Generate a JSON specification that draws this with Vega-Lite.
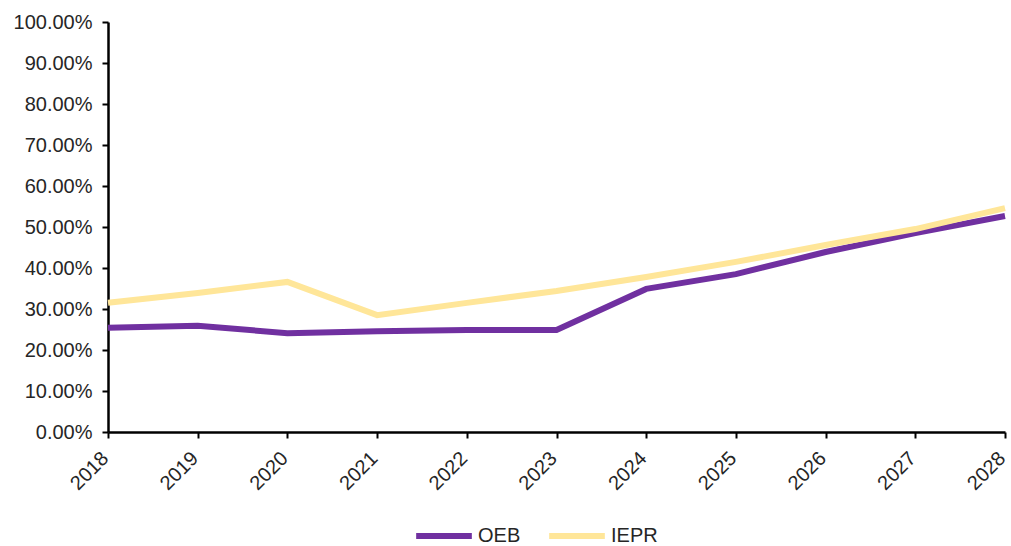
{
  "$schema": "https://vega.github.io/schema/vega-lite/v6.json",
  "width": 897,
  "height": 410,
  "autosize": {"type": "none"},
  "padding": {"left": 108, "top": 22, "right": 6, "bottom": 114},
  "background": "white",
  "config": {
    "view": {"stroke": null},
    "font": "Liberation Sans"
  },
  "data": {
    "values": [
      {"year": "2018", "series": "OEB", "value": 0.254},
      {"year": "2019", "series": "OEB", "value": 0.259},
      {"year": "2020", "series": "OEB", "value": 0.241},
      {"year": "2021", "series": "OEB", "value": 0.246},
      {"year": "2022", "series": "OEB", "value": 0.249},
      {"year": "2023", "series": "OEB", "value": 0.249},
      {"year": "2024", "series": "OEB", "value": 0.349},
      {"year": "2025", "series": "OEB", "value": 0.385},
      {"year": "2026", "series": "OEB", "value": 0.439},
      {"year": "2027", "series": "OEB", "value": 0.485},
      {"year": "2028", "series": "OEB", "value": 0.527},
      {"year": "2018", "series": "IEPR", "value": 0.315},
      {"year": "2019", "series": "IEPR", "value": 0.339},
      {"year": "2020", "series": "IEPR", "value": 0.366},
      {"year": "2021", "series": "IEPR", "value": 0.285},
      {"year": "2022", "series": "IEPR", "value": 0.315},
      {"year": "2023", "series": "IEPR", "value": 0.344},
      {"year": "2024", "series": "IEPR", "value": 0.378},
      {"year": "2025", "series": "IEPR", "value": 0.415},
      {"year": "2026", "series": "IEPR", "value": 0.456},
      {"year": "2027", "series": "IEPR", "value": 0.495},
      {"year": "2028", "series": "IEPR", "value": 0.546}
    ]
  },
  "mark": {"type": "line", "strokeWidth": 6, "strokeJoin": "miter"},
  "encoding": {
    "x": {
      "field": "year",
      "type": "ordinal",
      "scale": {"type": "point", "padding": 0},
      "axis": {
        "title": null,
        "labelAngle": -45,
        "labelAlign": "right",
        "labelBaseline": "middle",
        "labelFontSize": 20,
        "labelColor": "#262626",
        "labelPadding": 17,
        "labelOffset": -3,
        "domainColor": "black",
        "domainWidth": 2.5,
        "tickColor": "black",
        "tickWidth": 2,
        "tickSize": 6,
        "grid": false
      }
    },
    "y": {
      "field": "value",
      "type": "quantitative",
      "scale": {"domain": [0, 1], "nice": false},
      "axis": {
        "title": null,
        "format": ".2%",
        "values": [0, 0.1, 0.2, 0.3, 0.4, 0.5, 0.6, 0.7, 0.8, 0.9, 1],
        "labelFontSize": 20,
        "labelColor": "#262626",
        "labelPadding": 10,
        "domainColor": "black",
        "domainWidth": 2.5,
        "tickColor": "black",
        "tickWidth": 2,
        "tickSize": 6,
        "grid": false
      }
    },
    "color": {
      "field": "series",
      "type": "nominal",
      "sort": ["OEB", "IEPR"],
      "scale": {"domain": ["OEB", "IEPR"], "range": ["#7030A0", "#FFE699"]},
      "legend": {
        "title": null,
        "orient": "none",
        "direction": "horizontal",
        "legendX": 305,
        "legendY": 483,
        "symbolType": "stroke",
        "symbolStrokeWidth": 6,
        "symbolSize": 3100,
        "labelFontSize": 20,
        "labelColor": "#262626",
        "columnPadding": 16,
        "labelOffset": 3
      }
    }
  }
}
